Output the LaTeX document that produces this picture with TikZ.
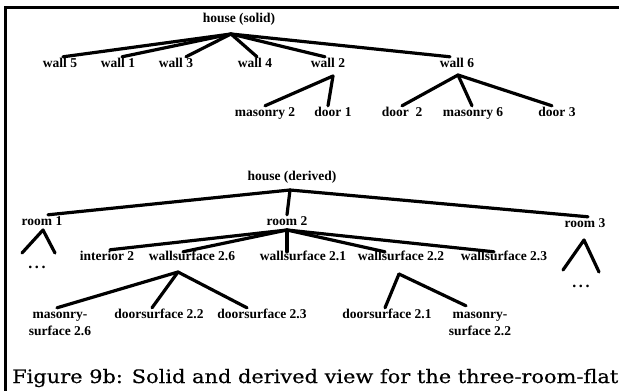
\documentclass[tikz,border=0pt]{standalone}
\usepackage{graphicx}
\usepackage{fontspec}
\setmainfont{Liberation Serif}
\newfontfamily\capfont[FakeBold=0.4]{DejaVu Serif}
\begin{document}
\begin{tikzpicture}[x=1pt,y=-1pt,
  lbl/.style={anchor=base,inner sep=1pt,text height=9pt,text depth=2.5pt,
    font=\fontsize{13.5}{17}\selectfont\bfseries},
  dotsty/.style={anchor=base,inner sep=0pt,font=\fontsize{16}{17}\selectfont\bfseries},
  edge/.style={line width=3.2pt,line cap=round,line join=round},
  frame/.style={line width=3pt}]
\useasboundingbox (0,0) rectangle (619,391);
\fill[white] (0,0) rectangle (619,391);

% frame (top and left rules)
\draw[frame] (5,391) -- (5,7.5) -- (619,7.5);

% ---------- solid view ----------
\node[lbl] (hs) at (239,22) {house (solid)};
\coordinate (hsJ) at (231,34);
\node[lbl] (w5) at (60,67) {wall 5};
\node[lbl] (w1) at (118,67) {wall 1};
\node[lbl] (w3) at (176,67) {wall 3};
\node[lbl] (w4) at (255,67) {wall 4};
\node[lbl] (w2) at (328,67) {wall 2};
\node[lbl] (w6) at (457,67) {wall 6};
\draw[edge] (hsJ) -- ([xshift=3pt]w5.north);
\draw[edge] (hsJ) -- ([xshift=4pt]w1.north);
\draw[edge] (hsJ) -- ([xshift=10pt]w3.north);
\draw[edge] (hsJ) -- ([xshift=2pt]w4.north);
\draw[edge] (hsJ) -- ([xshift=-3pt]w2.north);
\draw[edge] (hsJ) -- ([xshift=-7pt]w6.north);

\coordinate (w2J) at (333,76);
\node[lbl] (ms2) at (265,116) {masonry 2};
\node[lbl] (d1) at (333,116) {door 1};
\draw[edge] (w2J) -- (ms2.north);
\draw[edge] (w2J) -- ([xshift=-5pt]d1.north);

\coordinate (w6J) at (458,75);
\node[lbl] (d2) at (402,116) {door\ \ 2};
\node[lbl] (ms6) at (473,116) {masonry 6};
\node[lbl] (d3) at (557,116) {door 3};
\draw[edge] (w6J) -- (d2.north);
\draw[edge] (w6J) -- ([xshift=-1pt]ms6.north);
\draw[edge] (w6J) -- ([xshift=-5pt]d3.north);

% ---------- derived view ----------
\node[lbl] (hd) at (292,180) {house (derived)};
\coordinate (hdJ) at (290,190);
\node[lbl] (r1) at (42,225) {room 1};
\node[lbl] (r2) at (287,225) {room 2};
\node[lbl] (r3) at (585,227) {room 3};
\draw[edge] (hdJ) -- ([xshift=6pt]r1.north);
\draw[edge] (hdJ) -- (r2.north);
\draw[edge] (hdJ) -- ([xshift=3pt]r3.north);

% collapsed subtrees of room 1 and room 3
\node[dotsty] (dt1) at (37,268) {.\,.\,.};
\coordinate (r1L) at (22,253);
\coordinate (r1T) at (43,230);
\coordinate (r1R) at (55,253);
\draw[edge] (r1L) -- (r1T) -- (r1R);
\node[dotsty] (dt3) at (581,287) {.\,.\,.};
\coordinate (r3L) at (563,270);
\coordinate (r3T) at (584,240);
\coordinate (r3R) at (599,272);
\draw[edge] (r3L) -- (r3T) -- (r3R);

% room 2
\coordinate (r2J) at (287,230);
\node[lbl] (in2) at (107,260) {interior 2};
\node[lbl] (ws26) at (192,260) {wallsurface 2.6};
\node[lbl] (ws21) at (303,260) {wallsurface 2.1};
\node[lbl] (ws22) at (401,260) {wallsurface 2.2};
\node[lbl] (ws23) at (504,260) {wallsurface 2.3};
\draw[edge] (r2J) -- ([xshift=3pt]in2.north);
\draw[edge] (r2J) -- ([xshift=-9pt,yshift=-2pt]ws26.north);
\draw[edge] (r2J) -- ([xshift=-16pt,yshift=-2pt]ws21.north);
\draw[edge] (r2J) -- ([xshift=-16pt,yshift=-2pt]ws22.north);
\draw[edge] (r2J) -- ([xshift=-10pt,yshift=-2pt]ws23.north);

% wallsurface 2.6
\coordinate (ws26J) at (178,272);
\node[lbl] (ms26) at (60,318) {\begin{tabular}[t]{@{}c@{}}masonry-\\surface 2.6\end{tabular}};
\node[lbl] (ds22) at (159,318) {doorsurface 2.2};
\node[lbl] (ds23) at (262,318) {doorsurface 2.3};
\draw[edge] (ws26J) -- ([xshift=-3pt]ms26.north);
\draw[edge] (ws26J) -- ([xshift=-7pt]ds22.north);
\draw[edge] (ws26J) -- ([xshift=-15pt]ds23.north);

% wallsurface 2.2
\coordinate (ws22J) at (399,274);
\node[lbl] (ds21) at (387,318) {doorsurface 2.1};
\node[lbl] (ms22) at (480,318) {\begin{tabular}[t]{@{}c@{}}masonry-\\surface 2.2\end{tabular}};
\draw[edge] (ws22J) -- ([xshift=-2pt]ds21.north);
\draw[edge] (ws22J) -- ([xshift=-14pt,yshift=2pt]ms22.north);

% caption
\node[anchor=base west,inner sep=0pt] (cap) at (12,383)
  {\resizebox{606pt}{\height}{\capfont\fontsize{18.5}{20}\selectfont Figure 9b: Solid and derived view for the three-room-flat}};
\end{tikzpicture}
\end{document}
